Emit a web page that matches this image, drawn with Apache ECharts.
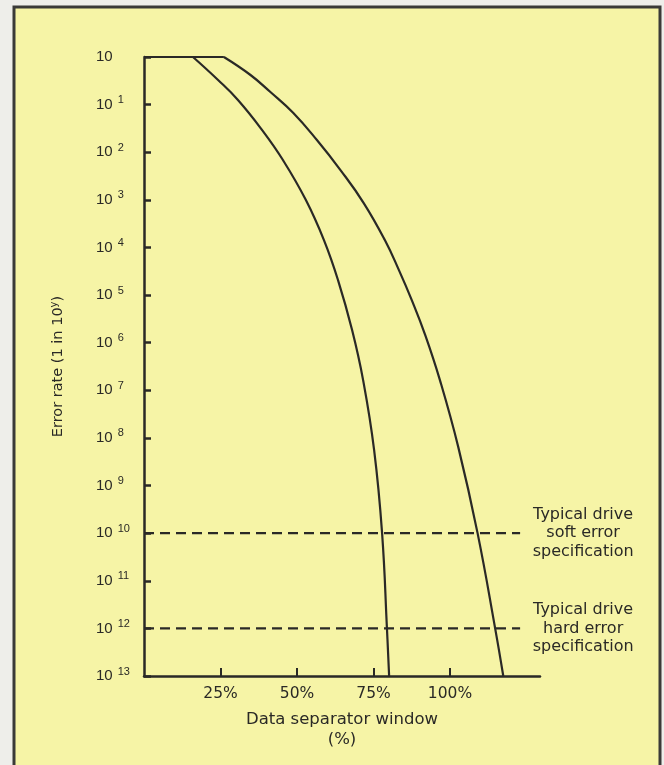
<!DOCTYPE html>
<html>
<head>
<meta charset="utf-8">
<script src="https://cdn.jsdelivr.net/npm/echarts@6/dist/echarts.min.js"></script>
<style>
  html, body { margin: 0; padding: 0; background: #eeeeea; }
  #chart { width: 664px; height: 765px; }
</style>
</head>
<body>
<div id="chart"></div>
<script>
// Exponent y of error rate "1 in 10^y" (0 = top, 13 = bottom)
const yTicks = [0,1,2,3,4,5,6,7,8,9,10,11,12,13];
const xTicks = [25, 50, 75, 100];
const xMax = 129.4;

// Curve values: [window %, exponent]
const ceiling = [[0, 0], [26.1, 0]];
const curveLeft = [
  [16.0, 0], [24.2, 0.483], [30.7, 0.903], [38.6, 1.534], [45.4, 2.164],
  [52.9, 3.004], [58.8, 3.845], [63.4, 4.685], [68.0, 5.735], [71.6, 6.786],
  [75.2, 8.256], [77.8, 10.0], [79.4, 12.02], [80.1, 13.0]
];
const curveRight = [
  [26.1, 0], [34.8, 0.378], [41.3, 0.735], [48.8, 1.176], [56.5, 1.744],
  [64.2, 2.374], [71.8, 3.067], [78.7, 3.845], [83.3, 4.475], [87.5, 5.105],
  [91.9, 5.84], [96.7, 6.786], [102.7, 8.193], [109.0, 10.0], [114.8, 12.02],
  [117.4, 13.0]
];
const softSpec = [[0, 10], [122.9, 10]];
const hardSpec = [[0, 12], [122.9, 12]];
const softLabel = 'Typical drive\nsoft error\nspecification';
const hardLabel = 'Typical drive\nhard error\nspecification';

const ink = '#2a2926';
const fontA = '"Liberation Sans", Arial, Helvetica, sans-serif';
const fontW = '"DejaVu Sans", Verdana, sans-serif';

const chart = echarts.init(document.getElementById('chart'), null, { renderer: 'canvas' });

function dashed(data, text) {
  return {
    type: 'line', data: data, symbol: 'none', silent: true,
    lineStyle: { color: ink, width: 2.2, type: [10, 6] },
    endLabel: {
      show: true, formatter: text, align: 'center', verticalAlign: 'middle',
      distance: 63, color: ink, fontFamily: fontW, fontSize: 16, lineHeight: 18.5
    }
  };
}

chart.setOption({
  animation: false,
  backgroundColor: 'transparent',
  graphic: [{
    type: 'rect', z: -100, silent: true,
    shape: { x: 14, y: 7, width: 646, height: 800 },
    style: { fill: '#f6f4a6', stroke: '#3a3a38', lineWidth: 3 }
  }],
  grid: { left: 144, top: 57, right: 124, bottom: 89, containLabel: false },
  xAxis: {
    type: 'value', min: 0, max: xMax,
    name: 'Data separator window\n(%)',
    nameLocation: 'middle', nameGap: 34,
    nameTextStyle: { color: ink, fontFamily: fontW, fontSize: 16.5, lineHeight: 20 },
    axisLine: { show: true, onZero: false, lineStyle: { color: ink, width: 2.5 } },
    axisTick: { show: true, inside: true, length: 8, customValues: xTicks, lineStyle: { color: ink, width: 2 } },
    axisLabel: { customValues: xTicks, formatter: v => v + '%', color: ink, fontFamily: fontW, fontSize: 15.5, margin: 10 },
    splitLine: { show: false }
  },
  yAxis: {
    type: 'value', min: 0, max: 13, interval: 1, inverse: true,
    name: 'Error rate (1 in 10{s|y})',
    nameLocation: 'middle', nameRotate: 90, nameGap: 77,
    nameTextStyle: {
      color: ink, fontFamily: fontW, fontSize: 14.5,
      rich: { s: { fontSize: 10, color: ink, fontFamily: fontW, padding: [0, 0, 8, 0] } }
    },
    axisLine: { show: true, onZero: false, lineStyle: { color: ink, width: 2.5 } },
    axisTick: { show: true, inside: true, length: 7, lineStyle: { color: ink, width: 2.5 } },
    axisLabel: {
      align: 'left', margin: 48,
      formatter: v => v === 0 ? '10' : '10{s|' + v + '}',
      color: ink, fontFamily: fontA, fontSize: 15,
      rich: {
        s: { fontSize: 11, color: ink, fontFamily: fontA, padding: [0, 0, 9, 5] }
      }
    },
    splitLine: { show: false }
  },
  series: [
    { type: 'line', data: ceiling, symbol: 'none', silent: true, lineStyle: { color: ink, width: 2.2 } },
    { type: 'line', data: curveLeft, symbol: 'none', smooth: 0.45, silent: true, lineStyle: { color: ink, width: 2.2 } },
    { type: 'line', data: curveRight, symbol: 'none', smooth: 0.45, silent: true, lineStyle: { color: ink, width: 2.2 } },
    dashed(softSpec, softLabel),
    dashed(hardSpec, hardLabel)
  ]
});
</script>
</body>
</html>
